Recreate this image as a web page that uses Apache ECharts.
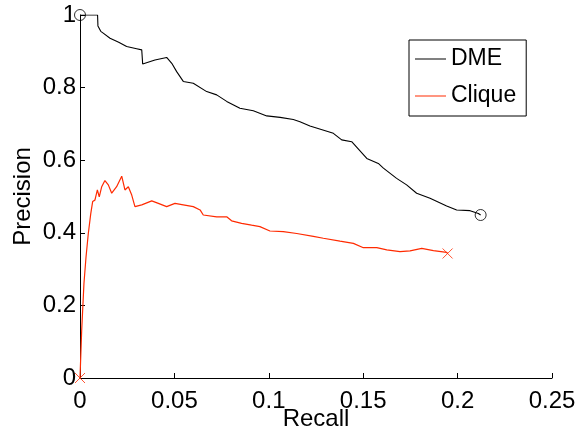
<!DOCTYPE html>
<html>
<head>
<meta charset="utf-8">
<script src="https://cdn.jsdelivr.net/npm/echarts@6/dist/echarts.min.js"></script>
<style>
html,body{margin:0;padding:0;background:#fff;}
#chart{width:579px;height:435px;}
</style>
</head>
<body>
<div id="chart"></div>
<script>
var xTicks = [0, 0.05, 0.1, 0.15, 0.2, 0.25];
var yTicks = [0, 0.2, 0.4, 0.6, 0.8, 1];

var dmeRecall = [0, 0.0093, 0.0095, 0.011, 0.0123, 0.0159, 0.0205, 0.0247, 0.030, 0.0327, 0.0332, 0.0397, 0.0459, 0.0486, 0.0512, 0.0547, 0.060, 0.0671, 0.0724, 0.0777, 0.0847, 0.0918, 0.0989, 0.106, 0.113, 0.1165, 0.1218, 0.1342, 0.1386, 0.1439, 0.1519, 0.158, 0.1607, 0.1677, 0.173, 0.1783, 0.1854, 0.1942, 0.1995, 0.2066, 0.2110, 0.2122];
var dmePrecision = [1, 1, 0.97, 0.955, 0.950, 0.936, 0.925, 0.913, 0.907, 0.904, 0.865, 0.876, 0.883, 0.867, 0.844, 0.817, 0.812, 0.789, 0.780, 0.762, 0.743, 0.736, 0.722, 0.718, 0.712, 0.706, 0.694, 0.674, 0.656, 0.651, 0.605, 0.591, 0.578, 0.550, 0.532, 0.509, 0.495, 0.474, 0.463, 0.461, 0.453, 0.449];

var cliqueRecall = [0, 0.0009, 0.0021, 0.0032, 0.0044, 0.0057, 0.0067, 0.0079, 0.0092, 0.0102, 0.0115, 0.0132, 0.015, 0.0168, 0.0194, 0.0221, 0.0238, 0.0256, 0.0274, 0.0291, 0.0327, 0.038, 0.0415, 0.0459, 0.0503, 0.0547, 0.060, 0.0636, 0.0653, 0.0724, 0.0777, 0.0803, 0.0856, 0.0909, 0.0953, 0.1006, 0.1077, 0.1148, 0.1236, 0.1289, 0.1377, 0.1448, 0.1501, 0.1572, 0.1625, 0.1695, 0.1748, 0.181, 0.1872, 0.1942, 0.1947];
var cliquePrecision = [0, 0.132, 0.261, 0.334, 0.398, 0.453, 0.486, 0.490, 0.518, 0.499, 0.527, 0.544, 0.532, 0.509, 0.527, 0.556, 0.518, 0.527, 0.504, 0.472, 0.477, 0.488, 0.481, 0.472, 0.481, 0.477, 0.472, 0.463, 0.449, 0.444, 0.444, 0.433, 0.426, 0.421, 0.417, 0.405, 0.403, 0.398, 0.390, 0.385, 0.377, 0.371, 0.359, 0.359, 0.353, 0.348, 0.350, 0.357, 0.351, 0.346, 0.343];

function zip(a, b) { return a.map(function (v, i) { return [v, b[i]]; }); }
var dmeData = zip(dmeRecall, dmePrecision);
var cliqueData = zip(cliqueRecall, cliquePrecision);
var dmeEnds = [dmeData[0], dmeData[dmeData.length - 1]];
var cliqueEnds = [cliqueData[0], cliqueData[cliqueData.length - 1]];

var FONT = '"Liberation Sans", Arial, Helvetica, sans-serif';
var RED = '#ff2a00';
var FS = 24;

var chart = echarts.init(document.getElementById('chart'), null, {renderer: 'canvas'});
chart.setOption({
  animation: false,
  backgroundColor: '#fff',
  textStyle: {fontFamily: FONT, color: '#000'},
  grid: {left: 80, right: 27, top: 15, bottom: 57, containLabel: false, outerBoundsMode: 'none'},
  legend: {
    data: ['DME', 'Clique'],
    orient: 'vertical',
    left: 409,
    top: 40,
    padding: [7, 10, 8, 6],
    itemGap: 13,
    itemWidth: 31,
    itemHeight: 1,
    icon: 'rect',
    borderColor: '#000',
    borderWidth: 1,
    backgroundColor: '#fff',
    textStyle: {fontFamily: FONT, fontSize: 23, color: '#000', lineHeight: 24}
  },
  xAxis: {
    type: 'value',
    min: xTicks[0],
    max: xTicks[xTicks.length - 1],
    interval: 0.05,
    name: 'Recall',
    nameLocation: 'middle',
    nameGap: 29,
    nameMoveOverlap: false,
    nameTextStyle: {fontFamily: FONT, fontSize: FS, color: '#000'},
    axisLine: {lineStyle: {color: '#000', width: 1}},
    axisTick: {inside: true, length: 5, lineStyle: {color: '#000'}},
    axisLabel: {fontFamily: FONT, fontSize: FS, color: '#000', margin: 11},
    splitLine: {show: false}
  },
  yAxis: {
    type: 'value',
    min: yTicks[0],
    max: yTicks[yTicks.length - 1],
    interval: 0.2,
    name: 'Precision',
    nameLocation: 'middle',
    nameGap: 45,
    nameRotate: 90,
    nameMoveOverlap: false,
    nameTextStyle: {fontFamily: FONT, fontSize: FS, color: '#000'},
    axisLine: {show: true, lineStyle: {color: '#000', width: 1}},
    axisTick: {show: true, inside: true, length: 5, lineStyle: {color: '#000'}},
    axisLabel: {fontFamily: FONT, fontSize: FS, color: '#000', margin: 4},
    splitLine: {show: false}
  },
  series: [
    {
      name: 'DME', type: 'line', data: dmeData, showSymbol: false, symbol: 'none',
      lineStyle: {color: '#000', width: 1.1}, itemStyle: {color: '#000'}, z: 3
    },
    {
      name: 'Clique', type: 'line', data: cliqueData, showSymbol: false, symbol: 'none',
      lineStyle: {color: RED, width: 1.2}, itemStyle: {color: RED}, z: 3
    },
    {
      name: 'dmeMarks', type: 'scatter', data: dmeEnds, symbol: 'circle', symbolSize: 11,
      itemStyle: {color: 'rgba(0,0,0,0)', borderColor: '#000', borderWidth: 1}, z: 4
    },
    {
      name: 'cliqueMarks', type: 'scatter', data: cliqueEnds,
      symbol: 'path://M0,0L10,10M10,0L0,10', symbolSize: 10,
      itemStyle: {color: 'none', borderColor: RED, borderWidth: 1}, z: 4
    }
  ]
});
</script>
</body>
</html>
